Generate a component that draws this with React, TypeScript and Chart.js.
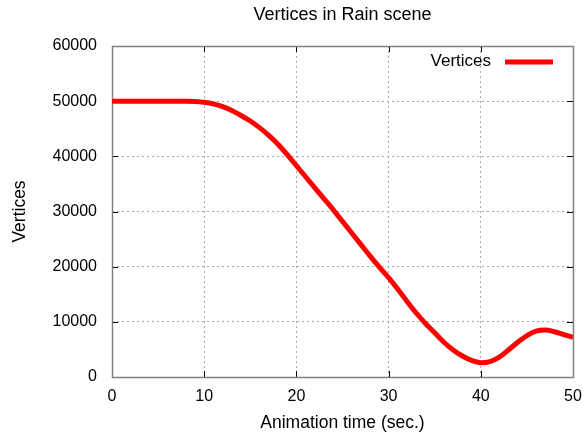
import React, { useEffect, useRef } from 'react';
import { Chart, registerables } from 'chart.js';

Chart.register(...registerables);

const chartTitle = 'Vertices in Rain scene';
const xAxisTitle = 'Animation time (sec.)';
const yAxisTitle = 'Vertices';
const seriesLabel = 'Vertices';

const timeSec = [
  0, 1, 2, 3, 4, 5, 6, 7, 8, 9,
  10, 11, 12, 13, 14, 15, 16, 17, 18, 19,
  20, 21, 22, 23, 24, 25, 26, 27, 28, 29,
  30, 31, 32, 33, 34, 35, 36, 37, 38, 39,
  40, 41, 42, 43, 44, 45, 46, 47, 48, 49, 50,
];
const vertices = [
  50000, 50000, 50000, 50000, 50000, 50000, 50000, 50000, 50000, 49950,
  49800, 49500, 49000, 48300, 47400, 46400, 45200, 43800, 42200, 40300,
  38300, 36300, 34300, 32300, 30300, 28200, 26100, 24000, 21900, 19900,
  18000, 15900, 13700, 11600, 9700, 8000, 6300, 4900, 3800, 3000,
  2600, 2800, 3600, 4900, 6300, 7500, 8300, 8500, 8200, 7700, 7200,
];
const xTicks = [0, 10, 20, 30, 40, 50];
const yTicks = [0, 10000, 20000, 30000, 40000, 50000, 60000];

const FONT = "'Liberation Sans', Arial, Helvetica, sans-serif";
const LINE_COLOR = '#ff0000';

const titlePlugin = {
  id: 'plotTitle',
  afterDraw(chart: any) {
    const { ctx, chartArea } = chart;
    ctx.save();
    ctx.font = `18px ${FONT}`;
    ctx.fillStyle = '#000000';
    ctx.textAlign = 'center';
    ctx.textBaseline = 'middle';
    ctx.fillText(chartTitle, (chartArea.left + chartArea.right) / 2, chartArea.top - 31);
    ctx.restore();
  },
};

const framePlugin = {
  id: 'frame',
  beforeDatasetsDraw(chart: any) {
    const { ctx, chartArea } = chart;
    const { left, right, top, bottom } = chartArea;
    const xs = chart.scales.x;
    const ys = chart.scales.y;
    ctx.save();
    ctx.strokeStyle = '#000000';
    ctx.lineWidth = 1;
    const tl = 6;
    ctx.beginPath();
    xTicks.forEach((v) => {
      const px = Math.round(xs.getPixelForValue(v)) + 0.5;
      ctx.moveTo(px, bottom);
      ctx.lineTo(px, bottom - tl);
      ctx.moveTo(px, top);
      ctx.lineTo(px, top + tl);
    });
    yTicks.forEach((v) => {
      const py = Math.round(ys.getPixelForValue(v)) + 0.5;
      ctx.moveTo(left, py);
      ctx.lineTo(left + tl, py);
      ctx.moveTo(right, py);
      ctx.lineTo(right - tl, py);
    });
    ctx.stroke();
    ctx.strokeStyle = '#7f7f7f';
    ctx.lineWidth = 1.5;
    ctx.strokeRect(Math.round(left) + 0.5, Math.round(top) + 0.5, Math.round(right - left), Math.round(bottom - top));
    ctx.restore();
  },
};

const legendPlugin = {
  id: 'innerLegend',
  afterDatasetsDraw(chart: any) {
    const { ctx, chartArea } = chart;
    const ds = chart.data.datasets[0];
    const y = chartArea.top + 15;
    const lineEnd = chartArea.right - 20;
    const lineStart = chartArea.right - 68;
    ctx.save();
    ctx.font = `17px ${FONT}`;
    ctx.fillStyle = '#000000';
    ctx.textAlign = 'right';
    ctx.textBaseline = 'middle';
    ctx.fillText(ds.label, chartArea.right - 82, y);
    ctx.strokeStyle = ds.borderColor;
    ctx.lineWidth = 5;
    ctx.beginPath();
    ctx.moveTo(lineStart, y + 1);
    ctx.lineTo(lineEnd, y + 1);
    ctx.stroke();
    ctx.restore();
  },
};

export default function App() {
  const canvasRef = useRef<HTMLCanvasElement | null>(null);

  useEffect(() => {
    document.body.style.margin = '0';
    const canvas = canvasRef.current;
    if (!canvas) return;
    const chart = new Chart(canvas, {
      type: 'line',
      data: {
        datasets: [
          {
            label: seriesLabel,
            data: timeSec.map((t, i) => ({ x: t, y: vertices[i] })),
            borderColor: LINE_COLOR,
            backgroundColor: LINE_COLOR,
            borderWidth: 5,
            pointRadius: 0,
            cubicInterpolationMode: 'monotone',
            fill: false,
          },
        ],
      },
      options: {
        responsive: false,
        animation: false,
        devicePixelRatio: 1,
        layout: { padding: { left: 0, right: 11, top: 46, bottom: 0 } },
        plugins: {
          legend: { display: false },
          tooltip: { enabled: false },
          title: { display: false },
        },
        scales: {
          x: {
            type: 'linear',
            min: 0,
            max: 50,
            afterBuildTicks: (scale: any) => {
              scale.ticks = xTicks.map((v) => ({ value: v }));
            },
            afterFit: (scale: any) => {
              scale.height = 64;
              scale.paddingLeft = 0;
              scale.paddingRight = 0;
            },
            ticks: {
              color: '#000000',
              font: { family: FONT, size: 16 },
              padding: 10,
              maxRotation: 0,
              callback: (v: any) => String(v),
            },
            grid: { color: '#a8a8a8', drawTicks: false, lineWidth: 1 },
            border: { display: false, dash: [2, 3] },
            title: {
              display: true,
              text: xAxisTitle,
              color: '#000000',
              font: { family: FONT, size: 17.5 },
              padding: { top: 0, bottom: 7 },
            },
          },
          y: {
            type: 'linear',
            min: 0,
            max: 60000,
            afterBuildTicks: (scale: any) => {
              scale.ticks = yTicks.map((v) => ({ value: v }));
            },
            afterFit: (scale: any) => {
              scale.width = 112;
              scale.paddingTop = 0;
              scale.paddingBottom = 0;
            },
            ticks: {
              color: '#000000',
              font: { family: FONT, size: 16 },
              padding: 15,
              callback: (v: any) => String(v),
            },
            grid: { color: '#a8a8a8', drawTicks: false, lineWidth: 1 },
            border: { display: false, dash: [2, 3] },
            title: {
              display: true,
              text: yAxisTitle,
              color: '#000000',
              font: { family: FONT, size: 17.5 },
              padding: { top: 10, bottom: 0 },
            },
          },
        },
      },
      plugins: [framePlugin, legendPlugin, titlePlugin],
    } as any);
    return () => chart.destroy();
  }, []);

  return (
    <div style={{ position: 'absolute', left: 0, top: 0, width: 584, height: 441, background: '#ffffff' }}>
      <canvas ref={canvasRef} width={584} height={441} />
    </div>
  );
}
